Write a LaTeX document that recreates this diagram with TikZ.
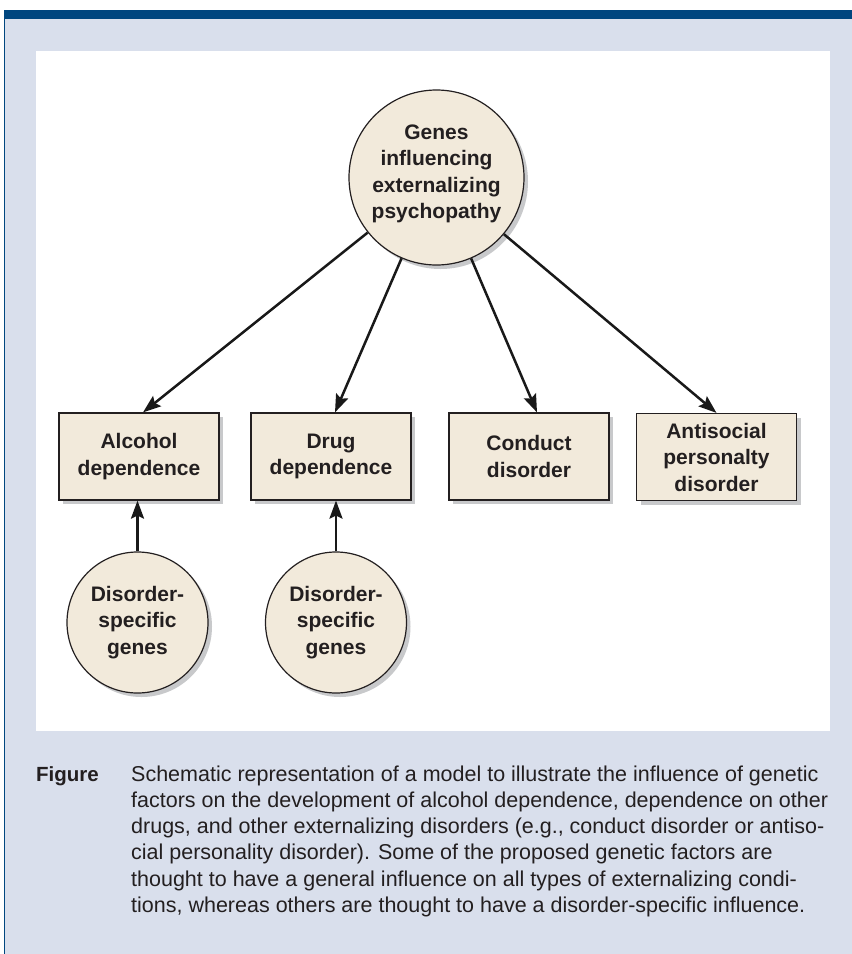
\documentclass[tikz,border=0pt]{standalone}
\usepackage{fontspec}
\setmainfont{Liberation Sans}
\usetikzlibrary{shadows,arrows.meta}
\definecolor{barblue}{HTML}{00467F}
\definecolor{bgblue}{HTML}{D9DFEC}
\definecolor{beige}{HTML}{F2EADB}
\definecolor{shadowgray}{HTML}{C8C9CB}
\definecolor{ink}{HTML}{231F20}
\begin{document}
\begin{tikzpicture}[x=1pt,y=-1pt,
  lbl/.style={font=\fontsize{21}{26.5}\selectfont\bfseries, text=ink, align=center},
  shad/.style={drop shadow={shadow xshift=4pt, shadow yshift=-4pt, fill=shadowgray, opacity=1}},
  gcirc/.style={lbl, circle, draw=ink, line width=1.2pt, fill=beige, inner sep=0pt, minimum size=#1, shad},
  dbox/.style={lbl, rectangle, draw=ink, line width=1.2pt, fill=beige, minimum width=160pt, minimum height=87pt, inner sep=0pt, shad},
  arr/.style={-{Stealth[length=18pt,width=13pt,inset=3pt]}, line width=2.5pt, draw=black!90},
  captxt/.style={font=\fontsize{21.5}{26}\selectfont, text=ink, anchor=base west, inner sep=0pt},
  captxtb/.style={captxt, font=\fontsize{20.5}{26}\selectfont\bfseries}
]
\useasboundingbox (0,0) rectangle (852,954);
% frame
\fill[white] (0,0) rectangle (852,954);
\fill[bgblue] (4,19) rectangle (852,954);
\fill[barblue] (3.5,10) rectangle (852,19);
\fill[barblue] (3.5,10) rectangle (5,954);
\fill[white] (36,51) rectangle (830,731);
% nodes
\node[gcirc=175pt] (g) at (436.5,177.5) {Genes\\influencing\\externalizing\\psychopathy\\[-15pt]\mbox{}};
\node[dbox] (alc) at (139,456.5) {Alcohol\\dependence};
\node[dbox] (drug) at (331,456.5) {Drug\\dependence};
\node[dbox] (cond) at (529,456.5) {Conduct\\disorder};
\node[dbox] (anti) at (716.5,457) {Antisocial\\personalty\\disorder};
\node[gcirc=141pt] (d1) at (137.5,622.5) {Disorder-\\specific\\genes};
\node[gcirc=141pt] (d2) at (336,622.5) {Disorder-\\specific\\genes};
% connectors
\draw[arr] (g) -- ([xshift=4pt]alc.north);
\draw[arr] (g) -- ([xshift=4pt]drug.north);
\draw[arr] (g) -- ([xshift=8pt]cond.north);
\draw[arr] (g) -- ([xshift=0pt]anti.north);
\draw[arr] (d1.north) -- (d1.north |- alc.south);
\draw[arr] (d2.north) -- (d2.north |- drug.south);
% caption
\node[captxtb] (fig) at (36,781) {Figure};
\node[captxt] (c1) at (131,781) {Schematic representation of a model to illustrate the influence of genetic};
\node[captxt] (c2) at (131,807) {factors on the development of alcohol dependence, dependence on other};
\node[captxt] (c3) at (131,833) {drugs, and other externalizing disorders (e.g., conduct disorder or antiso-};
\node[captxt] (c4) at (131,859.5) {cial personality disorder). Some of the proposed genetic factors are};
\node[captxt] (c5) at (131,886) {thought to have a general influence on all types of externalizing condi-};
\node[captxt] (c6) at (131,912) {tions, whereas others are thought to have a disorder-specific influence.};
\end{tikzpicture}
\end{document}
